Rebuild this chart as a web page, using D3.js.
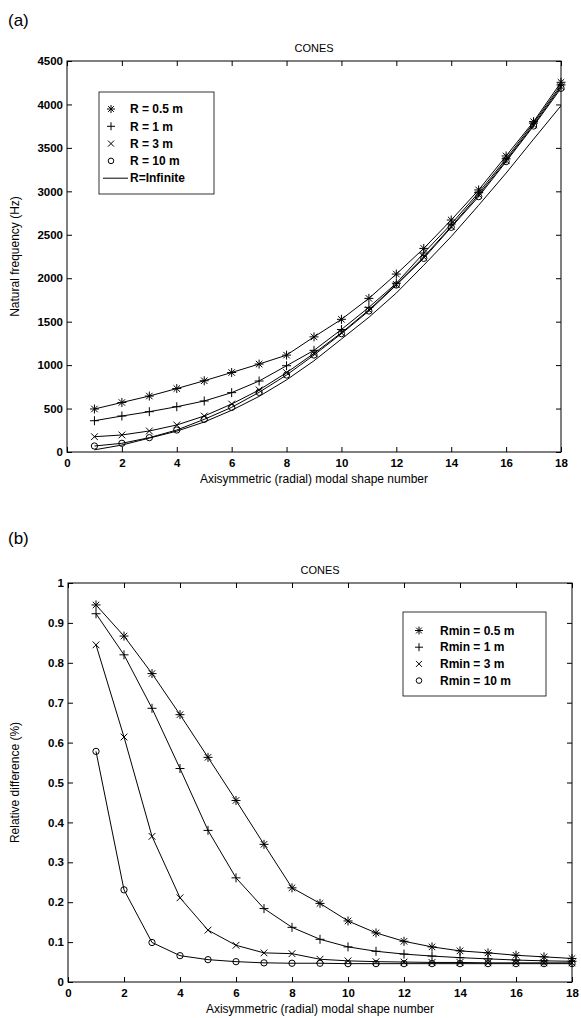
<!DOCTYPE html>
<html>
<head>
<meta charset="utf-8">
<script src="https://cdn.jsdelivr.net/npm/d3@7"></script>
<style>
  html, body { margin: 0; padding: 0; background: #fff; }
  svg { display: block; font-family: "Liberation Sans", Arial, Helvetica, sans-serif; }
  .tick text { font-weight: bold; font-size: 11.5px; fill: #000; }
</style>
</head>
<body>
<svg id="fig" width="581" height="1018"></svg>
<script>
// Mode numbers
const modes = d3.range(1, 19);

// (a) Natural frequency (Hz) per mode, for each cone radius
const freqR05 = [495, 570, 644, 730, 820, 915, 1012, 1115, 1325, 1527, 1768, 2048, 2343, 2670, 3016, 3407, 3802, 4255];
const freqR1  = [360, 414, 464, 521, 587, 683, 817, 993, 1170, 1410, 1665, 1942, 2290, 2624, 2985, 3375, 3785, 4225];
const freqR3  = [176, 196, 242, 311, 414, 552, 714, 913, 1135, 1372, 1635, 1928, 2245, 2595, 2960, 3355, 3765, 4205];
const freqR10 = [69, 100, 165, 253, 376, 514, 687, 886, 1116, 1362, 1623, 1922, 2229, 2586, 2939, 3342, 3752, 4186];
const freqInf = [25, 80, 160, 240, 345, 480, 640, 830, 1050, 1300, 1550, 1830, 2150, 2480, 2840, 3210, 3600, 3985];

// (b) Relative difference per mode, for each minimum radius
const diffR05 = [0.945, 0.867, 0.773, 0.670, 0.563, 0.455, 0.345, 0.236, 0.197, 0.153, 0.123, 0.102, 0.088, 0.078, 0.073, 0.067, 0.063, 0.059];
const diffR1  = [0.923, 0.820, 0.686, 0.535, 0.380, 0.261, 0.184, 0.137, 0.107, 0.088, 0.077, 0.070, 0.065, 0.061, 0.058, 0.055, 0.053, 0.052];
const diffR3  = [0.845, 0.614, 0.365, 0.211, 0.130, 0.092, 0.073, 0.071, 0.057, 0.053, 0.051, 0.050, 0.049, 0.049, 0.048, 0.048, 0.048, 0.048];
const diffR10 = [0.578, 0.231, 0.099, 0.066, 0.056, 0.051, 0.048, 0.047, 0.047, 0.046, 0.046, 0.046, 0.046, 0.046, 0.046, 0.046, 0.046, 0.046];

// Axis ticks
const xTicks = d3.range(0, 19, 2);
const yTicksA = d3.range(0, 4501, 500);
const yTicksB = [0, 0.1, 0.2, 0.3, 0.4, 0.5, 0.6, 0.7, 0.8, 0.9, 1];

const legendA = ["R = 0.5 m", "R = 1 m", "R = 3 m", "R = 10 m", "R=Infinite"];
const legendB = ["Rmin = 0.5 m", "Rmin = 1 m", "Rmin = 3 m", "Rmin = 10 m"];

const svg = d3.select("#fig");

// Marker glyphs (centred on 0,0)
function drawMarker(g, type, s) {
  const h = s / 2;
  const p = g.append("path").attr("fill", "none").attr("stroke", "#000").attr("stroke-width", 1);
  let d = "";
  if (type === "star") {
    const k = h * 0.72;
    d = `M${-h},0H${h}M0,${-h}V${h}M${-k},${-k}L${k},${k}M${-k},${k}L${k},${-k}`;
  } else if (type === "plus") {
    d = `M${-h},0H${h}M0,${-h}V${h}`;
  } else if (type === "cross") {
    const k = h * 0.75;
    d = `M${-k},${-k}L${k},${k}M${-k},${k}L${k},${-k}`;
  } else if (type === "circle") {
    const r = h * 0.7;
    d = `M${r},0A${r},${r} 0 1 1 ${-r},0A${r},${r} 0 1 1 ${r},0`;
  }
  p.attr("d", d);
}

function panel(cfg) {
  const { left, top, right, bottom } = cfg;
  const x = d3.scaleLinear().domain([0, 18]).range([left, right]);
  const y = d3.scaleLinear().domain(cfg.yDomain).range([bottom, top]);
  const g = svg.append("g");

  // Frame
  g.append("rect").attr("x", left).attr("y", top).attr("width", right - left).attr("height", bottom - top)
    .attr("fill", "none").attr("stroke", "#000").attr("stroke-width", 1);

  const tl = 5;
  // Bottom / left axes with inward ticks
  const ax = g.append("g").attr("transform", `translate(0,${bottom})`)
    .call(d3.axisBottom(x).tickValues(xTicks).tickSizeInner(-tl).tickSizeOuter(0).tickPadding(7).tickFormat(d3.format("d")));
  ax.select(".domain").remove();
  const ay = g.append("g").attr("transform", `translate(${left},0)`)
    .call(d3.axisLeft(y).tickValues(cfg.yTicks).tickSizeInner(-tl).tickSizeOuter(0).tickPadding(4).tickFormat(cfg.yFormat));
  ay.select(".domain").remove();
  // Mirrored ticks on top / right
  const at = g.append("g").attr("transform", `translate(0,${top})`)
    .call(d3.axisTop(x).tickValues(xTicks).tickSizeInner(-tl).tickSizeOuter(0).tickFormat(""));
  at.select(".domain").remove();
  const ar = g.append("g").attr("transform", `translate(${right},0)`)
    .call(d3.axisRight(y).tickValues(cfg.yTicks).tickSizeInner(-tl).tickSizeOuter(0).tickFormat(""));
  ar.select(".domain").remove();
  g.selectAll(".tick line").attr("stroke", "#000");
  g.selectAll(".tick text").attr("fill", "#000");

  // Title and axis labels
  g.append("text").attr("x", (left + right) / 2).attr("y", top - 9).attr("text-anchor", "middle")
    .attr("font-size", 11).text("CONES");
  g.append("text").attr("x", (left + right) / 2).attr("y", bottom + 31).attr("text-anchor", "middle")
    .attr("font-size", 12).text("Axisymmetric (radial) modal shape number");
  g.append("text").attr("transform", `translate(19,${(top + bottom) / 2}) rotate(-90)`).attr("text-anchor", "middle")
    .attr("font-size", 12).text(cfg.yLabel);
  g.append("text").attr("x", 8).attr("y", top - cfg.tagOffset).attr("font-size", 17).text(cfg.tag);

  // Series
  const line = d3.line().x((d, i) => x(modes[i])).y(d => y(d));
  cfg.series.forEach(s => {
    g.append("path").datum(s.values).attr("d", line).attr("fill", "none").attr("stroke", "#000").attr("stroke-width", 1);
    if (s.marker) {
      s.values.forEach((v, i) => {
        const m = g.append("g").attr("transform", `translate(${x(modes[i])},${y(v)})`);
        drawMarker(m, s.marker, 9);
      });
    }
  });

  // Legend
  const L = cfg.legend;
  g.append("rect").attr("x", L.x).attr("y", L.y).attr("width", L.w).attr("height", L.h)
    .attr("fill", "#fff").attr("stroke", "#000").attr("stroke-width", 0.8);
  cfg.series.forEach((s, i) => {
    const yy = L.y + L.first + i * L.step;
    if (s.marker) {
      const m = g.append("g").attr("transform", `translate(${L.x + L.mx},${yy})`);
      drawMarker(m, s.marker, 8);
    } else {
      g.append("line").attr("x1", L.x + 4).attr("x2", L.x + 29).attr("y1", yy).attr("y2", yy)
        .attr("stroke", "#000").attr("stroke-width", 1);
    }
    g.append("text").attr("x", L.x + L.tx).attr("y", yy).attr("dy", "0.35em")
      .attr("font-size", 12).attr("font-weight", "bold").text(s.label);
  });
}

panel({
  left: 67, right: 561, top: 61, bottom: 452,
  yDomain: [0, 4500], yTicks: yTicksA, yFormat: d3.format("d"),
  yLabel: "Natural frequency (Hz)", tag: "(a)", tagOffset: 35,
  series: [
    { values: freqR05, marker: "star", label: legendA[0] },
    { values: freqR1, marker: "plus", label: legendA[1] },
    { values: freqR3, marker: "cross", label: legendA[2] },
    { values: freqR10, marker: "circle", label: legendA[3] },
    { values: freqInf, marker: null, label: legendA[4] }
  ],
  legend: { x: 99, y: 92, w: 115, h: 102, first: 17, step: 17.3, mx: 12, tx: 31 }
});

panel({
  left: 68, right: 572, top: 583, bottom: 982,
  yDomain: [0, 1], yTicks: yTicksB, yFormat: d => (d === 0 || d === 1) ? d3.format("d")(d) : d3.format(".1f")(d),
  yLabel: "Relative difference (%)", tag: "(b)", tagOffset: 39,
  series: [
    { values: diffR05, marker: "star", label: legendB[0] },
    { values: diffR1, marker: "plus", label: legendB[1] },
    { values: diffR3, marker: "cross", label: legendB[2] },
    { values: diffR10, marker: "circle", label: legendB[3] }
  ],
  legend: { x: 403, y: 612, w: 143, h: 84, first: 18.5, step: 16.7, mx: 16, tx: 37 }
});
</script>
</body>
</html>
